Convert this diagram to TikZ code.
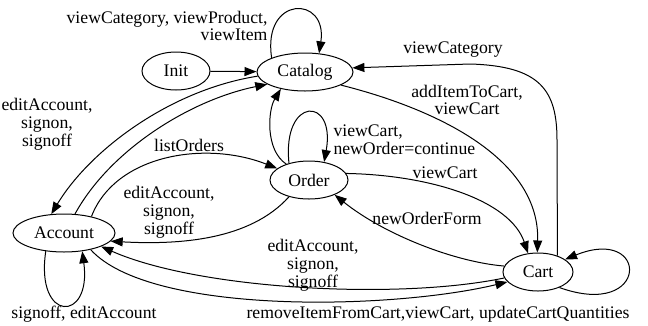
\documentclass[tikz,border=0pt]{standalone}
\usepackage{fontspec}
\setmainfont{Liberation Serif}
\usetikzlibrary{shapes.geometric, arrows.meta}

\begin{document}
\begin{tikzpicture}[x = 1pt, y = -1pt, font = \fontsize{17.7}{17.8}\selectfont, line width = 1pt,
    state/.style = {shape = ellipse, draw, inner sep = 0pt, minimum height = 38pt},
    trans/.style = {-{Triangle[length = 12pt, width = 9pt]}},
    lbl/.style = {align = center, inner sep = 0pt}]
    \useasboundingbox (0,0) rectangle (648,325);
    \node[state, minimum width = 68pt] (init) at (176,71) {Init};
    \node[state, minimum width = 96pt] (catalog) at (305,72) {Catalog};
    \node[state, minimum width = 78pt] (order) at (309,180) {Order};
    \node[state, minimum width = 102pt] (account) at (64,233) {Account};
    \node[state, minimum width = 70pt] (cart) at (538,272) {Cart};

    \draw[trans] (init) -- (catalog);
    \draw[trans] (catalog.157) .. controls (262,-5) and (328,-5) .. (catalog.53);
    \draw[trans] (catalog.185) .. controls (170,90) and (90,150) .. (account.124);
    \draw[trans] (account.60) .. controls (110,150) and (190,100) .. (catalog.198);
    \draw[trans] (order.145) .. controls (265,150) and (268,110) .. (catalog.215);
    \draw[trans] (order.140) .. controls (282,96) and (336,96) .. (order.50);
    \draw[trans] (account.31) .. controls (115,155) and (205,140) .. (order.160);
    \draw[trans] (order.220) .. controls (250,240) and (180,245) .. (account.350);
    \draw[trans] (catalog.340) .. controls (440,110) and (540,160) .. (cart.92);
    \draw[trans] (cart.40) -- (557,140) .. controls (557,90) and (540,66) .. (470,64) -- (catalog.5);
    \draw[trans] (order.10) .. controls (430,175) and (510,200) .. (cart.118);
    \draw[trans] (cart.170) .. controls (455,262) and (385,235) .. (order.330);
    \draw[trans] (cart.190) .. controls (400,300) and (200,290) .. (account.340);
    \draw[trans] (account.328) .. controls (150,315) and (390,310) .. (cart.198);
    \draw[trans] (account.225) .. controls (35,323) and (92,323) .. (account.315);
    \draw[trans] (cart.324) .. controls (650,320) and (650,225) .. (cart.25);

    \node[lbl, anchor = east, align = right] (l-catloop) at (268,26) {viewCategory, viewProduct,\\viewItem};
    \node[lbl] (l-cat-acc) at (47,124) {editAccount,\\signon,\\signoff};
    \node[lbl, anchor = west, align = left] (l-ordloop) at (333,140) {viewCart,\\newOrder=continue};
    \node[lbl] (l-acc-ord) at (189,145) {listOrders};
    \node[lbl] (l-ord-acc) at (169,212) {editAccount,\\signon,\\signoff};
    \node[lbl] (l-cat-cart) at (467,100) {addItemToCart,\\viewCart};
    \node[lbl] (l-cart-cat) at (453,50) {viewCategory};
    \node[lbl] (l-ord-cart) at (445,173) {viewCart};
    \node[lbl] (l-cart-ord) at (427,218) {newOrderForm};
    \node[lbl] (l-cart-acc) at (313,265) {editAccount,\\signon,\\signoff};
    \node[lbl] (l-acc-cart) at (438,314) {removeItemFromCart,viewCart, updateCartQuantities};
    \node[lbl] (l-accloop) at (84,314) {signoff, editAccount};
\end{tikzpicture}
\end{document}
